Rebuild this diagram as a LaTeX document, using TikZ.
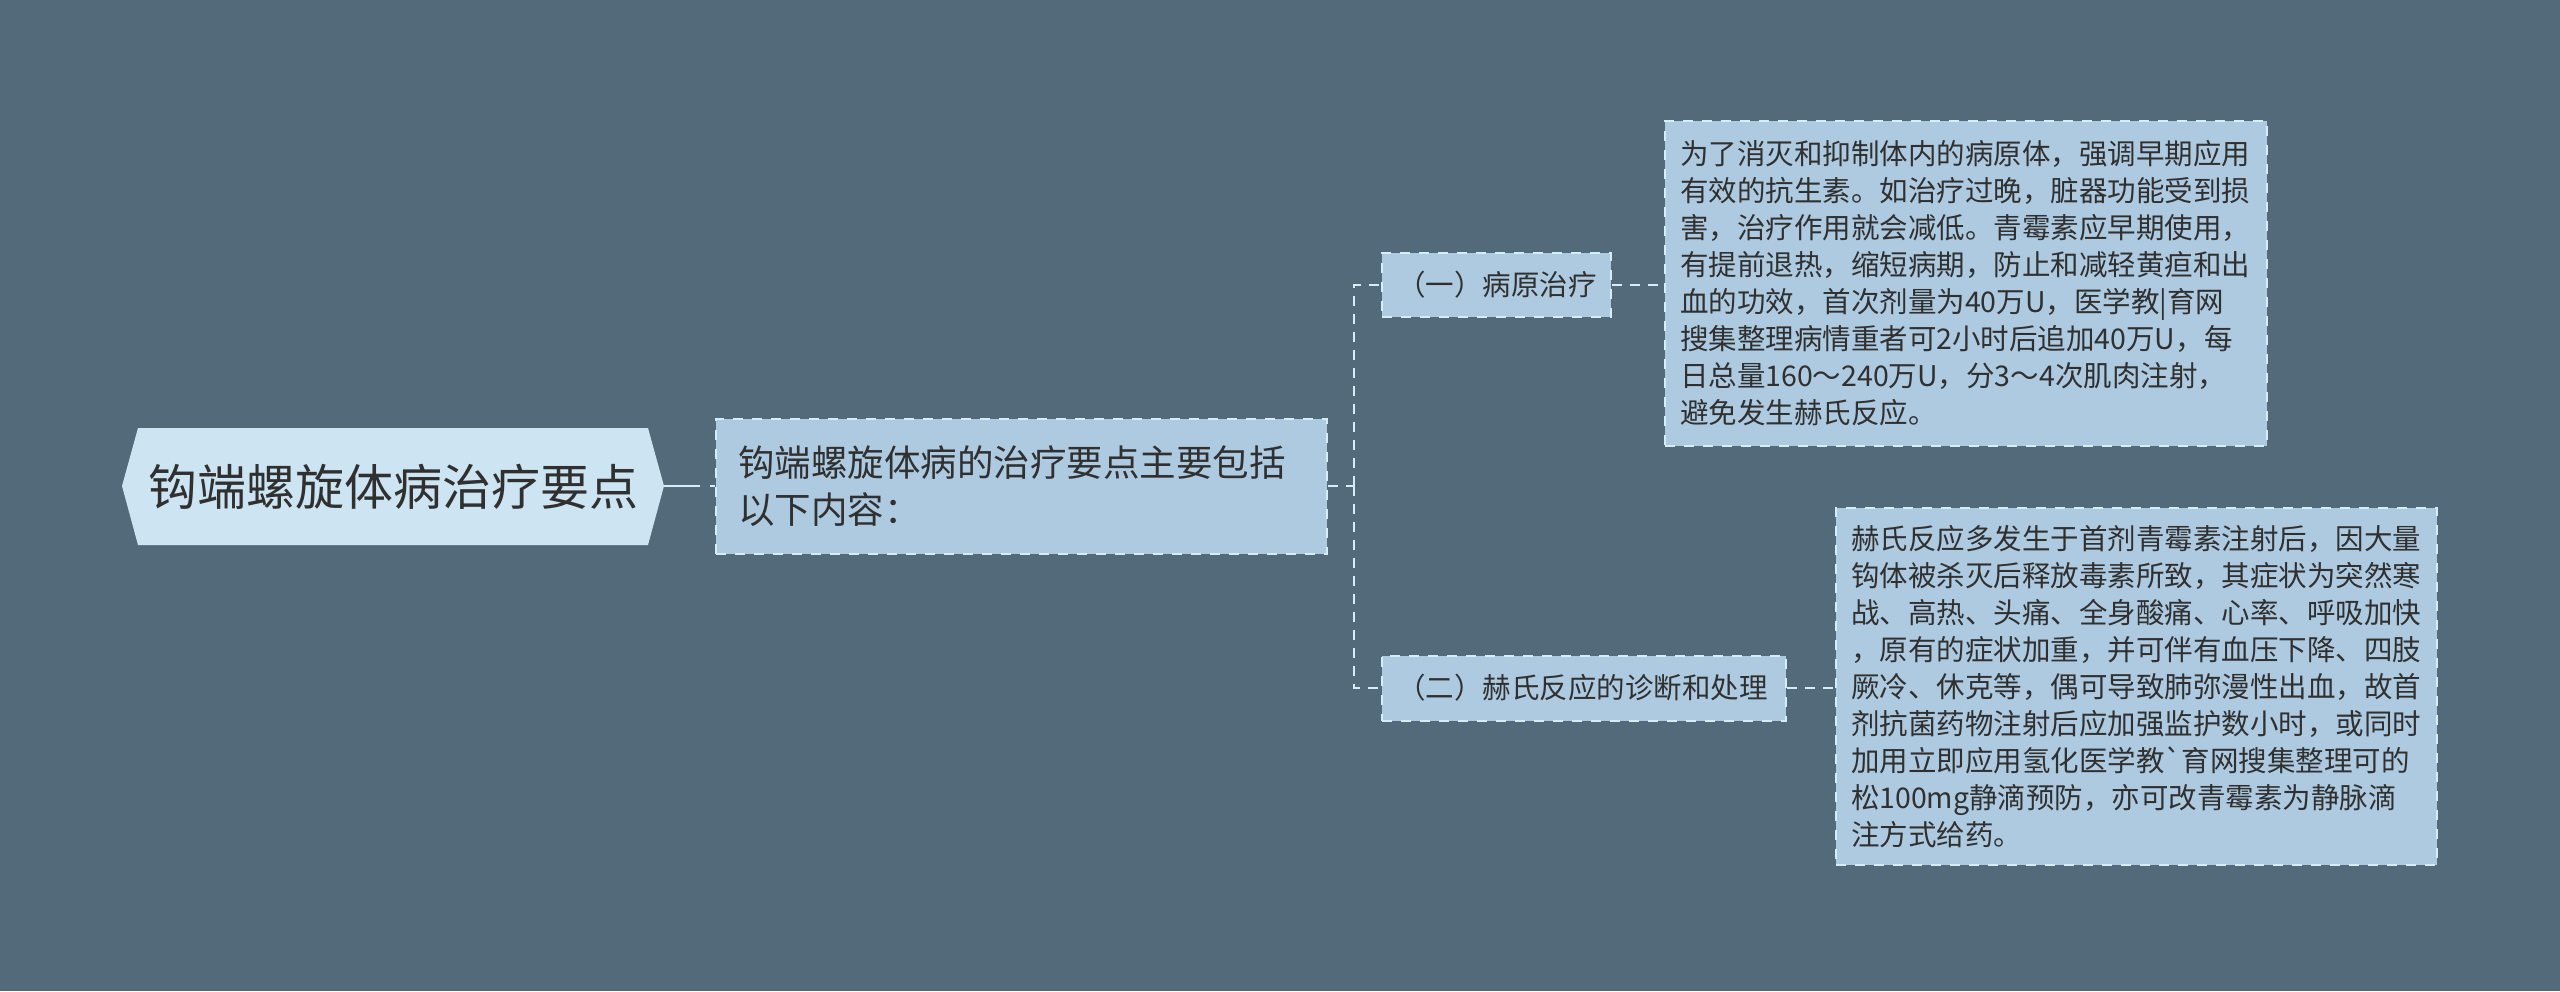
\documentclass[tikz,border=0pt]{standalone}
\usepackage{fontspec}
\setmainfont{Noto Sans CJK SC}[Ligatures=TeXOff]
\usetikzlibrary{calc}
\definecolor{bg}{HTML}{536A7A}
\definecolor{rootfill}{HTML}{CDE5F2}
\definecolor{nodefill}{HTML}{ADCAE0}
\definecolor{edgecol}{HTML}{D6ECF7}
\definecolor{txt}{HTML}{303030}
\begin{document}
\begin{tikzpicture}[x=1pt,y=-1pt,
  box/.style={draw=edgecol, line width=2pt, dash pattern=on 10pt off 9pt, fill=nodefill, text=txt, inner xsep=15pt, inner ysep=0pt, align=left, anchor=west},
  link/.style={draw=edgecol, line width=2pt, dash pattern=on 10pt off 8pt},
  small/.style={font=\fontsize{28.5}{37}\selectfont}]
\fill[bg] (0,0) rectangle (2560,991);
\useasboundingbox (0,0) rectangle (2560,991);
% root
\fill[rootfill] (122,486) -- (138,428) -- (648,428) -- (664,486) -- (648,545) -- (138,545) -- cycle;
\node[text=txt, font=\fontsize{49}{56}\selectfont, inner sep=0pt] (root) at (393,487) {钩端螺旋体病治疗要点};
\coordinate (rootR) at (664,486);
% main
\node[box, minimum width=611pt, minimum height=135pt, text width=567pt, inner xsep=22pt, font=\fontsize{36.5}{47}\selectfont] (main) at (715,486) {钩端螺旋体病的治疗要点主要包括\\以下内容：};
% children
\node[box, small, minimum width=229pt, minimum height=64pt, text width=199pt] (c1) at (1381,285) {（一）病原治疗};
\node[box, small, minimum width=404pt, minimum height=65pt, text width=374pt] (c2) at (1381,688) {（二）赫氏反应的诊断和处理};
% details
\node[box, small, minimum width=602pt, minimum height=325pt, text width=572pt] (d1) at (1664,283.5) {为了消灭和抑制体内的病原体，强调早期应用\\有效的抗生素。如治疗过晚，脏器功能受到损\\害，治疗作用就会减低。青霉素应早期使用，\\有提前退热，缩短病期，防止和减轻黄疸和出\\血的功效，首次剂量为40万U，医学教|育网\\搜集整理病情重者可2小时后追加40万U，每\\日总量160～240万U，分3～4次肌肉注射，\\避免发生赫氏反应。};
\node[box, small, minimum width=601pt, minimum height=357pt, text width=571pt] (d2) at (1835,686.5) {赫氏反应多发生于首剂青霉素注射后，因大量\\钩体被杀灭后释放毒素所致，其症状为突然寒\\战、高热、头痛、全身酸痛、心率、呼吸加快\\，原有的症状加重，并可伴有血压下降、四肢\\厥冷、休克等，偶可导致肺弥漫性出血，故首\\剂抗菌药物注射后应加强监护数小时，或同时\\加用立即应用氢化医学教`育网搜集整理可的\\松100mg静滴预防，亦可改青霉素为静脉滴\\注方式给药。};
% connectors
\coordinate (j) at (1354,486);
\draw[draw=edgecol, line width=2pt, dash pattern=on 36pt off 10pt on 10pt off 10pt] (rootR) -- (main.west);
\draw[link] (main.east) -- (j);
\draw[link] (j) |- (c1.west);
\draw[link] (j) |- (c2.west);
\draw[link] (c1.east) -- (c1.east -| d1.west);
\draw[link] (c2.east) -- (c2.east -| d2.west);
\end{tikzpicture}
\end{document}
